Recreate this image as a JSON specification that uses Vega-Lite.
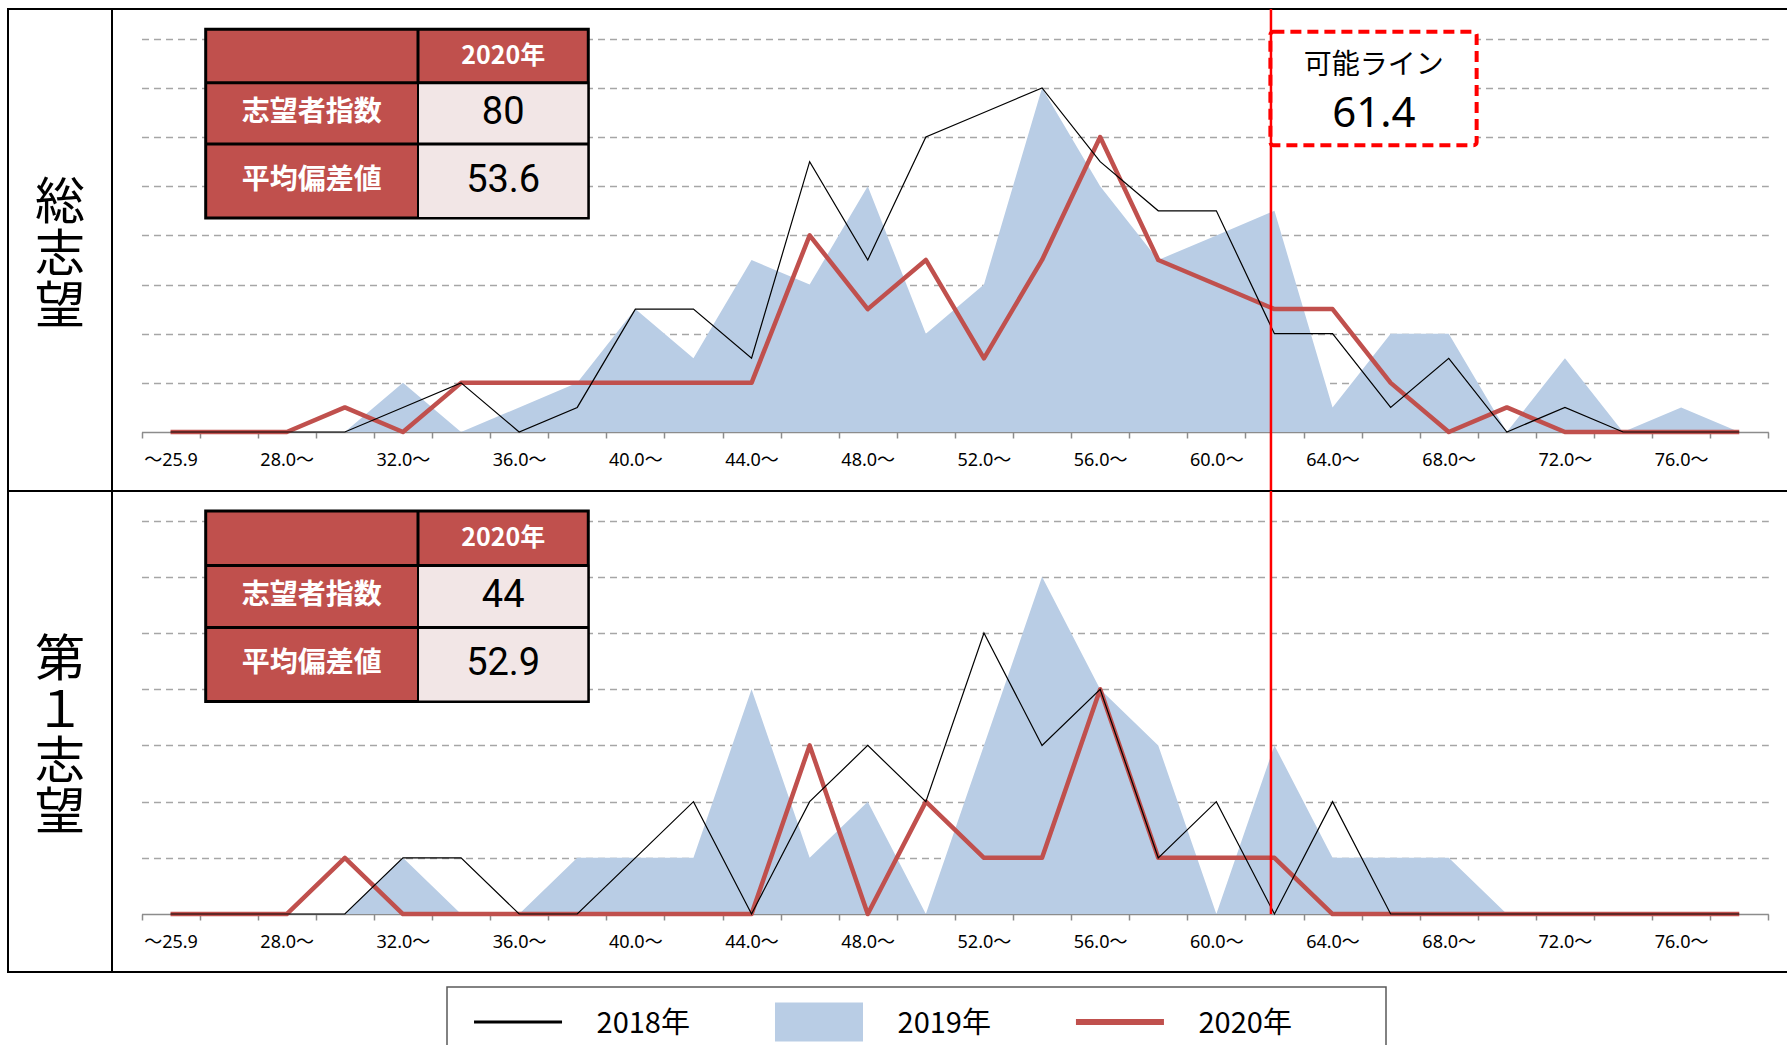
{
  "$schema": "https://vega.github.io/schema/vega-lite/v6.json",
  "padding": {"left": 7, "top": 6, "right": 0, "bottom": 0},
  "background": "white",
  "config": {"view": {"stroke": null}, "font": "Noto Sans, Noto Sans CJK JP, sans-serif"},
  "datasets": {
    "dist": [
      {"panel":"総志望","i":0,"bin":"～25.9","y2018":0,"y2019":0,"y2020":0},
      {"panel":"総志望","i":1,"bin":"26.0～","y2018":0,"y2019":0,"y2020":0},
      {"panel":"総志望","i":2,"bin":"28.0～","y2018":0,"y2019":0,"y2020":0},
      {"panel":"総志望","i":3,"bin":"30.0～","y2018":0,"y2019":0,"y2020":1},
      {"panel":"総志望","i":4,"bin":"32.0～","y2018":1,"y2019":2,"y2020":0},
      {"panel":"総志望","i":5,"bin":"34.0～","y2018":2,"y2019":0,"y2020":2},
      {"panel":"総志望","i":6,"bin":"36.0～","y2018":0,"y2019":1,"y2020":2},
      {"panel":"総志望","i":7,"bin":"38.0～","y2018":1,"y2019":2,"y2020":2},
      {"panel":"総志望","i":8,"bin":"40.0～","y2018":5,"y2019":5,"y2020":2},
      {"panel":"総志望","i":9,"bin":"42.0～","y2018":5,"y2019":3,"y2020":2},
      {"panel":"総志望","i":10,"bin":"44.0～","y2018":3,"y2019":7,"y2020":2},
      {"panel":"総志望","i":11,"bin":"46.0～","y2018":11,"y2019":6,"y2020":8},
      {"panel":"総志望","i":12,"bin":"48.0～","y2018":7,"y2019":10,"y2020":5},
      {"panel":"総志望","i":13,"bin":"50.0～","y2018":12,"y2019":4,"y2020":7},
      {"panel":"総志望","i":14,"bin":"52.0～","y2018":13,"y2019":6,"y2020":3},
      {"panel":"総志望","i":15,"bin":"54.0～","y2018":14,"y2019":14,"y2020":7},
      {"panel":"総志望","i":16,"bin":"56.0～","y2018":11,"y2019":10,"y2020":12},
      {"panel":"総志望","i":17,"bin":"58.0～","y2018":9,"y2019":7,"y2020":7},
      {"panel":"総志望","i":18,"bin":"60.0～","y2018":9,"y2019":8,"y2020":6},
      {"panel":"総志望","i":19,"bin":"62.0～","y2018":4,"y2019":9,"y2020":5},
      {"panel":"総志望","i":20,"bin":"64.0～","y2018":4,"y2019":1,"y2020":5},
      {"panel":"総志望","i":21,"bin":"66.0～","y2018":1,"y2019":4,"y2020":2},
      {"panel":"総志望","i":22,"bin":"68.0～","y2018":3,"y2019":4,"y2020":0},
      {"panel":"総志望","i":23,"bin":"70.0～","y2018":0,"y2019":0,"y2020":1},
      {"panel":"総志望","i":24,"bin":"72.0～","y2018":1,"y2019":3,"y2020":0},
      {"panel":"総志望","i":25,"bin":"74.0～","y2018":0,"y2019":0,"y2020":0},
      {"panel":"総志望","i":26,"bin":"76.0～","y2018":0,"y2019":1,"y2020":0},
      {"panel":"総志望","i":27,"bin":"78.0～","y2018":0,"y2019":0,"y2020":0},
      {"panel":"第1志望","i":0,"bin":"～25.9","y2018":0,"y2019":0,"y2020":0},
      {"panel":"第1志望","i":1,"bin":"26.0～","y2018":0,"y2019":0,"y2020":0},
      {"panel":"第1志望","i":2,"bin":"28.0～","y2018":0,"y2019":0,"y2020":0},
      {"panel":"第1志望","i":3,"bin":"30.0～","y2018":0,"y2019":0,"y2020":1},
      {"panel":"第1志望","i":4,"bin":"32.0～","y2018":1,"y2019":1,"y2020":0},
      {"panel":"第1志望","i":5,"bin":"34.0～","y2018":1,"y2019":0,"y2020":0},
      {"panel":"第1志望","i":6,"bin":"36.0～","y2018":0,"y2019":0,"y2020":0},
      {"panel":"第1志望","i":7,"bin":"38.0～","y2018":0,"y2019":1,"y2020":0},
      {"panel":"第1志望","i":8,"bin":"40.0～","y2018":1,"y2019":1,"y2020":0},
      {"panel":"第1志望","i":9,"bin":"42.0～","y2018":2,"y2019":1,"y2020":0},
      {"panel":"第1志望","i":10,"bin":"44.0～","y2018":0,"y2019":4,"y2020":0},
      {"panel":"第1志望","i":11,"bin":"46.0～","y2018":2,"y2019":1,"y2020":3},
      {"panel":"第1志望","i":12,"bin":"48.0～","y2018":3,"y2019":2,"y2020":0},
      {"panel":"第1志望","i":13,"bin":"50.0～","y2018":2,"y2019":0,"y2020":2},
      {"panel":"第1志望","i":14,"bin":"52.0～","y2018":5,"y2019":3,"y2020":1},
      {"panel":"第1志望","i":15,"bin":"54.0～","y2018":3,"y2019":6,"y2020":1},
      {"panel":"第1志望","i":16,"bin":"56.0～","y2018":4,"y2019":4,"y2020":4},
      {"panel":"第1志望","i":17,"bin":"58.0～","y2018":1,"y2019":3,"y2020":1},
      {"panel":"第1志望","i":18,"bin":"60.0～","y2018":2,"y2019":0,"y2020":1},
      {"panel":"第1志望","i":19,"bin":"62.0～","y2018":0,"y2019":3,"y2020":1},
      {"panel":"第1志望","i":20,"bin":"64.0～","y2018":2,"y2019":1,"y2020":0},
      {"panel":"第1志望","i":21,"bin":"66.0～","y2018":0,"y2019":1,"y2020":0},
      {"panel":"第1志望","i":22,"bin":"68.0～","y2018":0,"y2019":1,"y2020":0},
      {"panel":"第1志望","i":23,"bin":"70.0～","y2018":0,"y2019":0,"y2020":0},
      {"panel":"第1志望","i":24,"bin":"72.0～","y2018":0,"y2019":0,"y2020":0},
      {"panel":"第1志望","i":25,"bin":"74.0～","y2018":0,"y2019":0,"y2020":0},
      {"panel":"第1志望","i":26,"bin":"76.0～","y2018":0,"y2019":0,"y2020":0},
      {"panel":"第1志望","i":27,"bin":"78.0～","y2018":0,"y2019":0,"y2020":0}
    ],
    "stats": [
      {"panel":"総志望","index":80,"avg":53.6},
      {"panel":"第1志望","index":44,"avg":52.9}
    ],
    "cutoff": [{"label":"可能ライン","value":61.4}],
    "years": [{"year":"2018年"},{"year":"2019年"},{"year":"2020年"}]
  },
  "spacing": 13,
  "vconcat": [
    {"columns": 2, "spacing": 0, "bounds": "flush", "concat": [
        {"width": 104, "height": 482, "view": {"stroke": "black", "strokeWidth": 2},
         "data": {"values": [{"name": "総志望"}]},
         "transform": [{"calculate": "split(datum.name, '')", "as": "chars"}],
         "mark": {"type": "text", "font": "Noto Sans CJK JP", "fontSize": 50, "lineHeight": 52, "color": "black", "yOffset": -46},
         "encoding": {"text": {"field": "chars", "type": "nominal"}}},
        {"width": 1676, "height": 482, "view": {"stroke": "black", "strokeWidth": 2},
         "layer": [
          {"data": {"name": "dist"}, "transform": [{"filter": "datum.panel == '総志望'"}],
           "layer": [
            {"mark": {"type": "area", "color": "#B9CDE5"},
             "encoding": {
              "x": {"field": "i", "type": "quantitative",
                "scale": {"domain": [-0.5, 27.5], "range": [29.5, 1656.3], "nice": false, "zero": false},
                "axis": {"values": [-0.5,0.5,1.5,2.5,3.5,4.5,5.5,6.5,7.5,8.5,9.5,10.5,11.5,12.5,13.5,14.5,15.5,16.5,17.5,18.5,19.5,20.5,21.5,22.5,23.5,24.5,25.5,26.5,27.5],
                  "labelExpr": "['～25.9','','28.0～','','32.0～','','36.0～','','40.0～','','44.0～','','48.0～','','52.0～','','56.0～','','60.0～','','64.0～','','68.0～','','72.0～','','76.0～','',''][round(datum.value + 0.5)]",
                  "labelOffset": 29, "offset": -59, "grid": false, "domainColor": "#8c8c8c", "domainWidth": 1.5,
                  "tickColor": "#8c8c8c", "tickWidth": 1.5, "tickSize": 6, "labelFontSize": 18, "labelColor": "black",
                  "labelPadding": 13, "title": null, "labelOverlap": false, "labelFlush": false, "labelBound": false,
                  "labelFont": "Noto Sans, Noto Sans CJK JP"}},
              "y": {"field": "y2019", "type": "quantitative",
                "scale": {"domain": [-2.40, 17.21], "nice": false, "zero": false},
                "axis": {"values": [2,4,6,8,10,12,14,16], "grid": true, "gridDash": [7,5], "gridColor": "#a6a6a6", "gridWidth": 1.5,
                  "labels": false, "ticks": false, "domain": false, "title": null}},
              "y2": {"datum": 0}}},
            {"mark": {"type": "line", "color": "#C0504D", "strokeWidth": 4.5, "strokeJoin": "round"},
             "encoding": {"x": {"field": "i", "type": "quantitative"}, "y": {"field": "y2020", "type": "quantitative"}}},
            {"mark": {"type": "line", "color": "black", "strokeWidth": 1.2},
             "encoding": {"x": {"field": "i", "type": "quantitative"}, "y": {"field": "y2018", "type": "quantitative"}}}
           ]},
          {"data": {"name": "stats"}, "transform": [{"filter": "datum.panel == '総志望'"}],
           "layer": [
            {"mark": {"type": "rect", "fill": "#C0504D", "stroke": "black", "strokeWidth": 3},
             "encoding": {"x": {"datum": 0.605}, "x2": {"datum": 7.19}, "y": {"datum": 16.387}, "y2": {"datum": 8.708}}},
            {"mark": {"type": "rect", "fill": "#F2E6E6", "stroke": "black", "strokeWidth": 2},
             "encoding": {"x": {"datum": 4.259}, "x2": {"datum": 7.19}, "y": {"datum": 14.214}, "y2": {"datum": 8.708}}},
            {"mark": {"type": "rule", "color": "black", "strokeWidth": 3},
             "encoding": {"x": {"datum": 4.259}, "y": {"datum": 16.387}, "y2": {"datum": 14.214}}},
            {"mark": {"type": "rule", "color": "black", "strokeWidth": 3},
             "encoding": {"x": {"datum": 0.605}, "x2": {"datum": 7.19}, "y": {"datum": 14.214}}},
            {"mark": {"type": "rule", "color": "black", "strokeWidth": 3},
             "encoding": {"x": {"datum": 0.605}, "x2": {"datum": 7.19}, "y": {"datum": 11.719}}},
            {"mark": {"type": "text", "text": "2020年", "color": "white", "fontWeight": "bold", "fontSize": 25, "font": "Noto Sans CJK JP"},
             "encoding": {"x": {"datum": 5.725}, "y": {"datum": 15.30}}},
            {"mark": {"type": "text", "text": "志望者指数", "color": "white", "fontWeight": "bold", "fontSize": 28, "font": "Noto Sans CJK JP"},
             "encoding": {"x": {"datum": 2.432}, "y": {"datum": 12.967}}},
            {"mark": {"type": "text", "text": "平均偏差値", "color": "white", "fontWeight": "bold", "fontSize": 28, "font": "Noto Sans CJK JP"},
             "encoding": {"x": {"datum": 2.432}, "y": {"datum": 10.21}}},
            {"mark": {"type": "text", "color": "black", "fontSize": 38, "font": "Roboto"},
             "encoding": {"x": {"datum": 5.725}, "y": {"datum": 12.967}, "text": {"field": "index", "type": "quantitative"}}},
            {"mark": {"type": "text", "color": "black", "fontSize": 38, "font": "Roboto"},
             "encoding": {"x": {"datum": 5.725}, "y": {"datum": 10.21}, "text": {"field": "avg", "type": "quantitative", "format": ".1f"}}}
           ]},
          {"data": {"name": "cutoff"},
           "layer": [
            {"mark": {"type": "rect", "fill": "white", "stroke": "#FF0000", "strokeWidth": 4, "strokeDash": [11,6], "cornerRadius": 3},
             "encoding": {"x": {"datum": 18.93}, "x2": {"datum": 22.48}, "y": {"datum": 16.28}, "y2": {"datum": 11.67}}},
            {"mark": {"type": "rule", "color": "#FF0000", "strokeWidth": 2.5},
             "encoding": {"x": {"datum": 18.94}}},
            {"mark": {"type": "text", "color": "black", "fontSize": 28, "font": "Noto Sans CJK JP"},
             "encoding": {"x": {"datum": 20.71}, "y": {"datum": 14.91}, "text": {"field": "label", "type": "nominal"}}},
            {"mark": {"type": "text", "color": "black", "fontSize": 42, "font": "Noto Sans"},
             "encoding": {"x": {"datum": 20.71}, "y": {"datum": 12.95}, "text": {"field": "value", "type": "quantitative", "format": ".1f"}}}
           ]}
         ]},
        {"width": 104, "height": 481, "view": {"stroke": "black", "strokeWidth": 2},
         "data": {"values": [{"name": "第１志望"}]},
         "transform": [{"calculate": "split(datum.name, '')", "as": "chars"}],
         "mark": {"type": "text", "font": "Noto Sans CJK JP", "fontSize": 50, "lineHeight": 51, "color": "black", "yOffset": -71},
         "encoding": {"text": {"field": "chars", "type": "nominal"}}},
        {"width": 1676, "height": 481, "view": {"stroke": "black", "strokeWidth": 2},
         "layer": [
          {"data": {"name": "dist"}, "transform": [{"filter": "datum.panel == '第1志望'"}],
           "layer": [
            {"mark": {"type": "area", "color": "#B9CDE5"},
             "encoding": {
              "x": {"field": "i", "type": "quantitative",
                "scale": {"domain": [-0.5, 27.5], "range": [29.5, 1656.3], "nice": false, "zero": false},
                "axis": {"values": [-0.5,0.5,1.5,2.5,3.5,4.5,5.5,6.5,7.5,8.5,9.5,10.5,11.5,12.5,13.5,14.5,15.5,16.5,17.5,18.5,19.5,20.5,21.5,22.5,23.5,24.5,25.5,26.5,27.5],
                  "labelExpr": "['～25.9','','28.0～','','32.0～','','36.0～','','40.0～','','44.0～','','48.0～','','52.0～','','56.0～','','60.0～','','64.0～','','68.0～','','72.0～','','76.0～','',''][round(datum.value + 0.5)]",
                  "labelOffset": 29, "offset": -58, "grid": false, "domainColor": "#8c8c8c", "domainWidth": 1.5,
                  "tickColor": "#8c8c8c", "tickWidth": 1.5, "tickSize": 6, "labelFontSize": 18, "labelColor": "black",
                  "labelPadding": 13, "title": null, "labelOverlap": false, "labelFlush": false, "labelBound": false,
                  "labelFont": "Noto Sans, Noto Sans CJK JP"}},
              "y": {"field": "y2019", "type": "quantitative",
                "scale": {"domain": [-1.032, 7.528], "nice": false, "zero": false},
                "axis": {"values": [1,2,3,4,5,6,7], "grid": true, "gridDash": [7,5], "gridColor": "#a6a6a6", "gridWidth": 1.5,
                  "labels": false, "ticks": false, "domain": false, "title": null}},
              "y2": {"datum": 0}}},
            {"mark": {"type": "line", "color": "#C0504D", "strokeWidth": 4.5, "strokeJoin": "round"},
             "encoding": {"x": {"field": "i", "type": "quantitative"}, "y": {"field": "y2020", "type": "quantitative"}}},
            {"mark": {"type": "line", "color": "black", "strokeWidth": 1.2},
             "encoding": {"x": {"field": "i", "type": "quantitative"}, "y": {"field": "y2018", "type": "quantitative"}}}
           ]},
          {"data": {"name": "stats"}, "transform": [{"filter": "datum.panel == '第1志望'"}],
           "layer": [
            {"mark": {"type": "rect", "fill": "#C0504D", "stroke": "black", "strokeWidth": 3},
             "encoding": {"x": {"datum": 0.605}, "x2": {"datum": 7.19}, "y": {"datum": 7.172}, "y2": {"datum": 3.784}}},
            {"mark": {"type": "rect", "fill": "#F2E6E6", "stroke": "black", "strokeWidth": 2},
             "encoding": {"x": {"datum": 4.259}, "x2": {"datum": 7.19}, "y": {"datum": 6.204}, "y2": {"datum": 3.784}}},
            {"mark": {"type": "rule", "color": "black", "strokeWidth": 3},
             "encoding": {"x": {"datum": 4.259}, "y": {"datum": 7.172}, "y2": {"datum": 6.204}}},
            {"mark": {"type": "rule", "color": "black", "strokeWidth": 3},
             "encoding": {"x": {"datum": 0.605}, "x2": {"datum": 7.19}, "y": {"datum": 6.204}}},
            {"mark": {"type": "rule", "color": "black", "strokeWidth": 3},
             "encoding": {"x": {"datum": 0.605}, "x2": {"datum": 7.19}, "y": {"datum": 5.101}}},
            {"mark": {"type": "text", "text": "2020年", "color": "white", "fontWeight": "bold", "fontSize": 25, "font": "Noto Sans CJK JP"},
             "encoding": {"x": {"datum": 5.725}, "y": {"datum": 6.688}}},
            {"mark": {"type": "text", "text": "志望者指数", "color": "white", "fontWeight": "bold", "fontSize": 28, "font": "Noto Sans CJK JP"},
             "encoding": {"x": {"datum": 2.432}, "y": {"datum": 5.653}}},
            {"mark": {"type": "text", "text": "平均偏差値", "color": "white", "fontWeight": "bold", "fontSize": 28, "font": "Noto Sans CJK JP"},
             "encoding": {"x": {"datum": 2.432}, "y": {"datum": 4.443}}},
            {"mark": {"type": "text", "color": "black", "fontSize": 38, "font": "Roboto"},
             "encoding": {"x": {"datum": 5.725}, "y": {"datum": 5.653}, "text": {"field": "index", "type": "quantitative"}}},
            {"mark": {"type": "text", "color": "black", "fontSize": 38, "font": "Roboto"},
             "encoding": {"x": {"datum": 5.725}, "y": {"datum": 4.443}, "text": {"field": "avg", "type": "quantitative", "format": ".1f"}}}
           ]},
          {"data": {"name": "cutoff"},
           "layer": [
            {"mark": {"type": "rule", "color": "#FF0000", "strokeWidth": 2.5},
             "encoding": {"x": {"datum": 18.94}, "y": {"datum": 7.528}, "y2": {"datum": 0}}}
           ]}
         ]}
    ]},
    {"spacing": 0, "bounds": "flush", "hconcat": [
      {"width": 439, "height": 68, "data": {"values": [{}]}, "mark": {"type": "text", "text": ""}},
      {"width": 939, "height": 68, "view": {"stroke": "#595959", "strokeWidth": 1.5},
       "data": {"name": "years"},
       "layer": [
        {"transform": [{"filter": "datum.year == '2018年'"}],
         "mark": {"type": "point", "shape": "M-1,0L1,0", "size": 7744, "filled": false, "stroke": "black", "strokeWidth": 3, "opacity": 1, "yOffset": 1},
         "encoding": {"x": {"field": "year", "type": "nominal", "bandPosition": 0.176,
           "scale": {"type": "band", "domain": ["2018年","2019年","2020年"], "paddingInner": 0, "paddingOuter": 0.06}, "axis": null}}},
        {"transform": [{"filter": "datum.year == '2019年'"}],
         "mark": {"type": "point", "shape": "M-1,-0.443L1,-0.443L1,0.443L-1,0.443Z", "size": 7744, "filled": true, "fill": "#B9CDE5", "opacity": 1, "yOffset": 1},
         "encoding": {"x": {"field": "year", "type": "nominal", "bandPosition": 0.176}}},
        {"transform": [{"filter": "datum.year == '2020年'"}],
         "mark": {"type": "point", "shape": "M-1,0L1,0", "size": 7744, "filled": false, "stroke": "#C0504D", "strokeWidth": 6, "opacity": 1, "yOffset": 1},
         "encoding": {"x": {"field": "year", "type": "nominal", "bandPosition": 0.176}}},
        {"mark": {"type": "text", "align": "left", "fontSize": 29, "font": "Noto Sans CJK JP", "color": "black", "yOffset": 3},
         "encoding": {"x": {"field": "year", "type": "nominal", "bandPosition": 0.437}, "text": {"field": "year", "type": "nominal"}}}
       ]}
    ]}
  ]
}
